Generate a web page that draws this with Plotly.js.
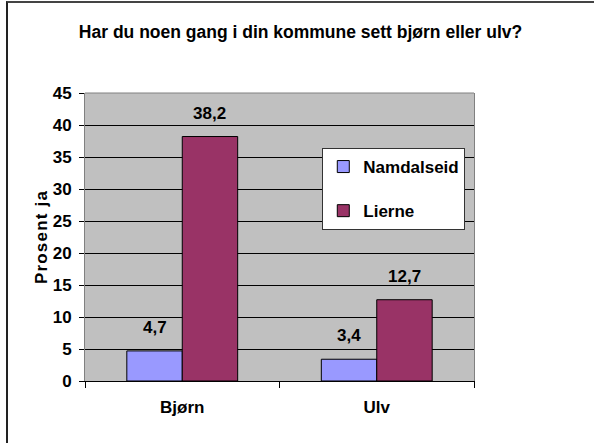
<!DOCTYPE html>
<html>
<head>
<meta charset="utf-8">
<script src="https://cdn.plot.ly/plotly-3.0.1.min.js"></script>
<style>
  html, body { margin: 0; padding: 0; background: #fff; }
  #chart { position: absolute; left: 0; top: 0; width: 594px; height: 443px; }
  #frame { position: absolute; left: 6px; top: 1px; width: 600px; height: 460px;
           border-left: 2px solid #222; border-top: 2px solid #444; pointer-events: none; }
</style>
</head>
<body>
<div id="chart"></div>
<div id="frame"></div>
<script>
const categories = ["Bjørn", "Ulv"];
const seriesNames = ["Namdalseid", "Lierne"];
const namdalseid = [4.7, 3.4];
const lierne = [38.2, 12.7];
const colors = ["#9999FF", "#993366"];
const titleText = "Har du noen gang i din kommune sett bjørn eller ulv?";
const yTitle = "Prosent ja";

const font = "Arial, 'Liberation Sans', sans-serif";
const allSeries = [namdalseid, lierne];

const traces = allSeries.map((vals, i) => ({
  type: "bar",
  x: categories,
  y: vals,
  name: seriesNames[i],
  legendgroup: "g" + i,
  marker: { color: colors[i], line: { color: "#000", width: 1 } },
  hoverinfo: "skip"
}));

// data labels as annotations above bars
const bargap = 0.43;
const barW = (1 - bargap) / 2;
const annotations = [];
allSeries.forEach((vals, i) => {
  vals.forEach((v, j) => {
    annotations.push({
      x: j + (i - 0.5) * barW,
      y: v,
      xref: "x", yref: "y",
      text: String(v).replace(".", ","),
      showarrow: false,
      yanchor: "bottom",
      yshift: 12,
      font: { family: font, size: 17, color: "#000", weight: "bold" }
    });
  });
});

const layout = {
  width: 594, height: 443,
  margin: { l: 85, r: 120, t: 93, b: 62 },
  paper_bgcolor: "#fff",
  plot_bgcolor: "#C0C0C0",
  bargap: bargap,
  bargroupgap: 0,
  barmode: "group",
  title: {
    text: titleText,
    x: 0.506, xref: "container", xanchor: "center",
    y: 1 - 32 / 443, yref: "container", yanchor: "middle",
    font: { family: font, size: 17.5, color: "#000", weight: "bold" }
  },
  xaxis: {
    type: "category",
    tickson: "boundaries",
    ticks: "outside", ticklen: 6, tickcolor: "#000",
    showline: true, linecolor: "#000", linewidth: 1,
    showgrid: false,
    ticklabelstandoff: 11,
    tickfont: { family: font, size: 17, color: "#000", weight: "bold" },
    range: [-0.5, 1.5]
  },
  yaxis: {
    range: [0, 45], dtick: 5, tick0: 0,
    ticks: "outside", ticklen: 5, tickcolor: "#000",
    showgrid: true, gridcolor: "#000", gridwidth: 1,
    zeroline: false,
    showline: true, linecolor: "#808080", linewidth: 1, mirror: true,
    ticklabelstandoff: 4,
    tickfont: { family: font, size: 17, color: "#000", weight: "bold" },
    title: { text: yTitle, standoff: 0,
             font: { family: font, size: 17, color: "#000", weight: "bold" } }
  },
  shapes: [
    { type: "line", xref: "paper", yref: "paper", x0: 0, x1: 1, y0: 1, y1: 1,
      line: { color: "#808080", width: 1 } }
  ],
  showlegend: true,
  legend: {
    x: 0.61, y: 0.809, xanchor: "left", yanchor: "top",
    bgcolor: "#fff", bordercolor: "#333", borderwidth: 1,
    traceorder: "grouped", tracegroupgap: 19,
    font: { family: font, size: 17, color: "#000", weight: "bold" },
    itemwidth: 30
  },
  annotations: annotations
};

Plotly.newPlot("chart", traces, layout, { displayModeBar: false, staticPlot: true }).then(() => {
  const t = document.querySelector(".ytitle");
  if (t) t.style.letterSpacing = "1.2px";
});
</script>
</body>
</html>
